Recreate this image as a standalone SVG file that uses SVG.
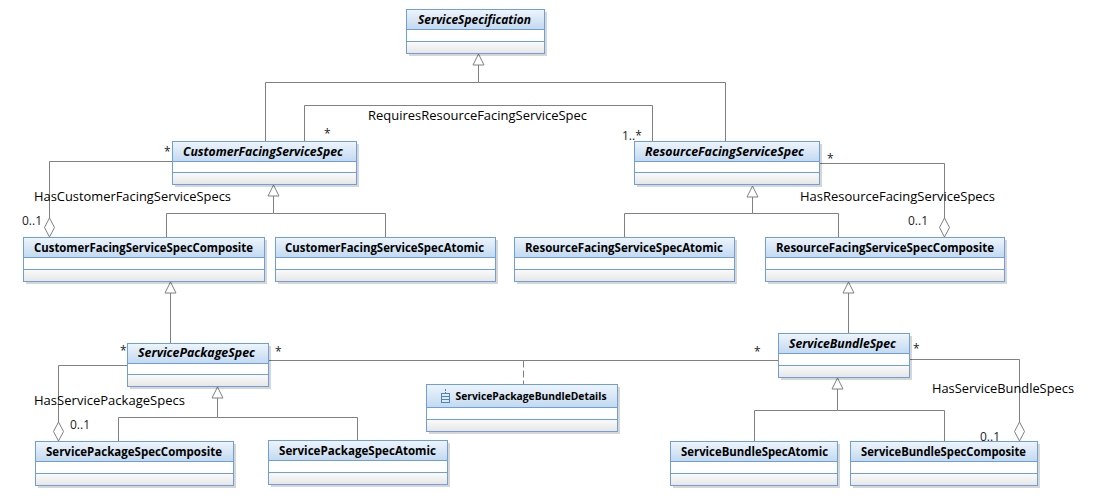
<svg xmlns="http://www.w3.org/2000/svg" width="1099" height="500" viewBox="0 0 1099 500">
<style>
.b{fill:#fff;stroke:#6f9fdb;stroke-width:1}
.t{fill:url(#tg);stroke:#6f9fdb;stroke-width:1}
.f{fill:url(#fg);stroke:#6f9fdb;stroke-width:1}
.s{fill:#000;opacity:.16}
text{font-family:"Open Sans","Liberation Sans",sans-serif;fill:#000}
.n{font-size:11.5px;font-weight:700}
.i{font-style:italic}
.l{font-size:12.5px;font-weight:500}
.m{font-size:12px;fill:#222}
.c{fill:none;stroke:#808080;stroke-width:1}
.h{fill:#fff;stroke:#808080;stroke-width:1}
</style>
<defs>
<linearGradient id="tg" x1="0" y1="0" x2="0" y2="1"><stop offset="0" stop-color="#eef5fc"/><stop offset="1" stop-color="#c2d9f0"/></linearGradient>
<linearGradient id="fg" x1="0" y1="0" x2="0" y2="1"><stop offset="0" stop-color="#fbfbfb"/><stop offset="1" stop-color="#e6e6e6"/></linearGradient>
</defs>
<rect width="1099" height="500" fill="#fff"/>
<g id="connectors">
<path class="c" d="M478.500 65V82.500H265.500V141.500"/>
<path class="c" d="M478.500 82.500H725.500V141.500"/>
<path class="c" d="M304.500 141.500V105.500H652.500V141.500"/>
<path class="c" d="M172.500 161.500H49.500V218"/>
<path class="c" d="M273.500 196V213.500H166.500V237.500"/>
<path class="c" d="M273.500 213.500H385.500V237.500"/>
<path class="c" d="M819.500 163.500H944.500V218"/>
<path class="c" d="M752.500 197V213.500H624.500V237.500"/>
<path class="c" d="M752.500 213.500H838.500V237.500"/>
<path class="c" d="M170.500 293V343.500"/>
<path class="c" d="M848.500 293V333.500"/>
<path class="c" d="M127.500 365.500H58.500V422"/>
<path class="c" d="M217.500 397V417.500H118.500V441.500"/>
<path class="c" d="M217.500 417.500H357.500V440.500"/>
<path class="c" d="M268.500 360.500H778.500"/>
<path class="c" d="M523.500 360.500V384.500" stroke-dasharray="7 3"/>
<path class="c" d="M909.500 359.500H1019.500V422"/>
<path class="c" d="M837.500 389V410.500H754.500V441.500"/>
<path class="c" d="M837.500 410.500H944.500V441.500"/>
<path class="h" d="M478.500 54L473 65H484Z"/>
<path class="h" d="M273.500 185L268 196H279Z"/>
<path class="h" d="M752.500 186L747 197H758Z"/>
<path class="h" d="M170.500 282L165 293H176Z"/>
<path class="h" d="M848.500 282L843 293H854Z"/>
<path class="h" d="M217.500 387L212 398H223Z"/>
<path class="h" d="M837.500 378L832 389H843Z"/>
<path class="h" d="M49.500 218L44.500 227.500L49.500 237L54.500 227.500Z"/>
<path class="h" d="M944.500 218L939.500 227.500L944.500 237L949.500 227.500Z"/>
<path class="h" d="M58.500 422L53.500 431.500L58.500 441L63.500 431.500Z"/>
<path class="h" d="M1019.500 422L1014.500 431.500L1019.500 441L1024.500 431.500Z"/>
<text class="l" x="368" y="120" textLength="219" lengthAdjust="spacingAndGlyphs">RequiresResourceFacingServiceSpec</text>
<text class="l" x="34" y="201" textLength="197" lengthAdjust="spacingAndGlyphs">HasCustomerFacingServiceSpecs</text>
<text class="l" x="800" y="201" textLength="195" lengthAdjust="spacingAndGlyphs">HasResourceFacingServiceSpecs</text>
<text class="l" x="34" y="405" textLength="151" lengthAdjust="spacingAndGlyphs">HasServicePackageSpecs</text>
<text class="l" x="932" y="393" textLength="142" lengthAdjust="spacingAndGlyphs">HasServiceBundleSpecs</text>
<text class="m" x="324" y="138">*</text>
<text class="m" x="164" y="156">*</text>
<text class="m" x="622" y="140">1..*</text>
<text class="m" x="827" y="163">*</text>
<text class="m" x="22" y="225">0..1</text>
<text class="m" x="908" y="225">0..1</text>
<text class="m" x="120" y="355">*</text>
<text class="m" x="275" y="356">*</text>
<text class="m" x="754" y="356">*</text>
<text class="m" x="913" y="353">*</text>
<text class="m" x="70" y="429">0..1</text>
<text class="m" x="980" y="441">0..1</text>
</g>
<g id="ServiceSpecification"><rect class="s" x="409" y="12" width="138" height="44"/><rect class="b" x="406.500" y="9.500" width="138" height="44"/><rect class="t" x="406.500" y="9.500" width="138" height="20"/><rect class="f" x="406.500" y="41.500" width="138" height="12"/><text class="n i" x="418" y="24" textLength="113" lengthAdjust="spacingAndGlyphs">ServiceSpecification</text></g>
<g id="CustomerFacingServiceSpec"><rect class="s" x="175" y="144" width="184" height="43"/><rect class="b" x="172.500" y="141.500" width="184" height="43"/><rect class="t" x="172.500" y="141.500" width="184" height="20"/><rect class="f" x="172.500" y="172.500" width="184" height="12"/><text class="n i" x="183" y="156" textLength="160" lengthAdjust="spacingAndGlyphs">CustomerFacingServiceSpec</text></g>
<g id="ResourceFacingServiceSpec"><rect class="s" x="637" y="144" width="185" height="43"/><rect class="b" x="634.500" y="141.500" width="185" height="43"/><rect class="t" x="634.500" y="141.500" width="185" height="20"/><rect class="f" x="634.500" y="172.500" width="185" height="12"/><text class="n i" x="645" y="156" textLength="159" lengthAdjust="spacingAndGlyphs">ResourceFacingServiceSpec</text></g>
<g id="CustomerFacingServiceSpecComposite"><rect class="s" x="26" y="240" width="241" height="44"/><rect class="b" x="23.500" y="237.500" width="241" height="44"/><rect class="t" x="23.500" y="237.500" width="241" height="20"/><rect class="f" x="23.500" y="269.500" width="241" height="12"/><text class="n" x="34" y="252" textLength="219" lengthAdjust="spacingAndGlyphs">CustomerFacingServiceSpecComposite</text></g>
<g id="CustomerFacingServiceSpecAtomic"><rect class="s" x="278" y="240" width="220" height="44"/><rect class="b" x="275.500" y="237.500" width="220" height="44"/><rect class="t" x="275.500" y="237.500" width="220" height="20"/><rect class="f" x="275.500" y="269.500" width="220" height="12"/><text class="n" x="285" y="252" textLength="199" lengthAdjust="spacingAndGlyphs">CustomerFacingServiceSpecAtomic</text></g>
<g id="ResourceFacingServiceSpecAtomic"><rect class="s" x="517" y="240" width="220" height="44"/><rect class="b" x="514.500" y="237.500" width="220" height="44"/><rect class="t" x="514.500" y="237.500" width="220" height="20"/><rect class="f" x="514.500" y="269.500" width="220" height="12"/><text class="n" x="525" y="252" textLength="198" lengthAdjust="spacingAndGlyphs">ResourceFacingServiceSpecAtomic</text></g>
<g id="ResourceFacingServiceSpecComposite"><rect class="s" x="768" y="240" width="239" height="44"/><rect class="b" x="765.500" y="237.500" width="239" height="44"/><rect class="t" x="765.500" y="237.500" width="239" height="20"/><rect class="f" x="765.500" y="269.500" width="239" height="12"/><text class="n" x="776" y="252" textLength="218" lengthAdjust="spacingAndGlyphs">ResourceFacingServiceSpecComposite</text></g>
<g id="ServicePackageSpec"><rect class="s" x="130" y="346" width="141" height="43"/><rect class="b" x="127.500" y="343.500" width="141" height="43"/><rect class="t" x="127.500" y="343.500" width="141" height="20"/><rect class="f" x="127.500" y="374.500" width="141" height="12"/><text class="n i" x="138" y="357" textLength="117" lengthAdjust="spacingAndGlyphs">ServicePackageSpec</text></g>
<g id="ServiceBundleSpec"><rect class="s" x="781" y="336" width="131" height="44"/><rect class="b" x="778.500" y="333.500" width="131" height="44"/><rect class="t" x="778.500" y="333.500" width="131" height="20"/><rect class="f" x="778.500" y="365.500" width="131" height="12"/><text class="n i" x="789" y="348" textLength="107" lengthAdjust="spacingAndGlyphs">ServiceBundleSpec</text></g>
<g id="ServicePackageBundleDetails"><rect class="s" x="429" y="387" width="191" height="47"/><rect class="b" x="426.500" y="384.500" width="191" height="47"/><rect class="t" x="426.500" y="384.500" width="191" height="23"/><rect class="f" x="426.500" y="419.500" width="191" height="12"/><g fill="none" stroke="#4f81bd"><path d="M445.500 389V393" stroke-dasharray="2 1"/><rect x="441.500" y="393.500" width="8" height="9" fill="#dce9f7"/><path d="M441.500 396.500H449.500M441.500 399.500H449.500"/></g><text class="n" x="455.500" y="400" textLength="151" lengthAdjust="spacingAndGlyphs" style="font-size:11px">ServicePackageBundleDetails</text></g>
<g id="ServicePackageSpecComposite"><rect class="s" x="38" y="444" width="198" height="44"/><rect class="b" x="35.500" y="441.500" width="198" height="44"/><rect class="t" x="35.500" y="441.500" width="198" height="20"/><rect class="f" x="35.500" y="473.500" width="198" height="12"/><text class="n" x="46" y="456" textLength="176" lengthAdjust="spacingAndGlyphs">ServicePackageSpecComposite</text></g>
<g id="ServicePackageSpecAtomic"><rect class="s" x="271" y="443" width="179" height="44"/><rect class="b" x="268.500" y="440.500" width="179" height="44"/><rect class="t" x="268.500" y="440.500" width="179" height="20"/><rect class="f" x="268.500" y="472.500" width="179" height="12"/><text class="n" x="279" y="455" textLength="157" lengthAdjust="spacingAndGlyphs">ServicePackageSpecAtomic</text></g>
<g id="ServiceBundleSpecAtomic"><rect class="s" x="673" y="444" width="167" height="44"/><rect class="b" x="670.500" y="441.500" width="167" height="44"/><rect class="t" x="670.500" y="441.500" width="167" height="20"/><rect class="f" x="670.500" y="473.500" width="167" height="12"/><text class="n" x="681" y="456" textLength="147" lengthAdjust="spacingAndGlyphs">ServiceBundleSpecAtomic</text></g>
<g id="ServiceBundleSpecComposite"><rect class="s" x="853" y="444" width="187" height="44"/><rect class="b" x="850.500" y="441.500" width="187" height="44"/><rect class="t" x="850.500" y="441.500" width="187" height="20"/><rect class="f" x="850.500" y="473.500" width="187" height="12"/><text class="n" x="861" y="456" textLength="165" lengthAdjust="spacingAndGlyphs">ServiceBundleSpecComposite</text></g>
</svg>
